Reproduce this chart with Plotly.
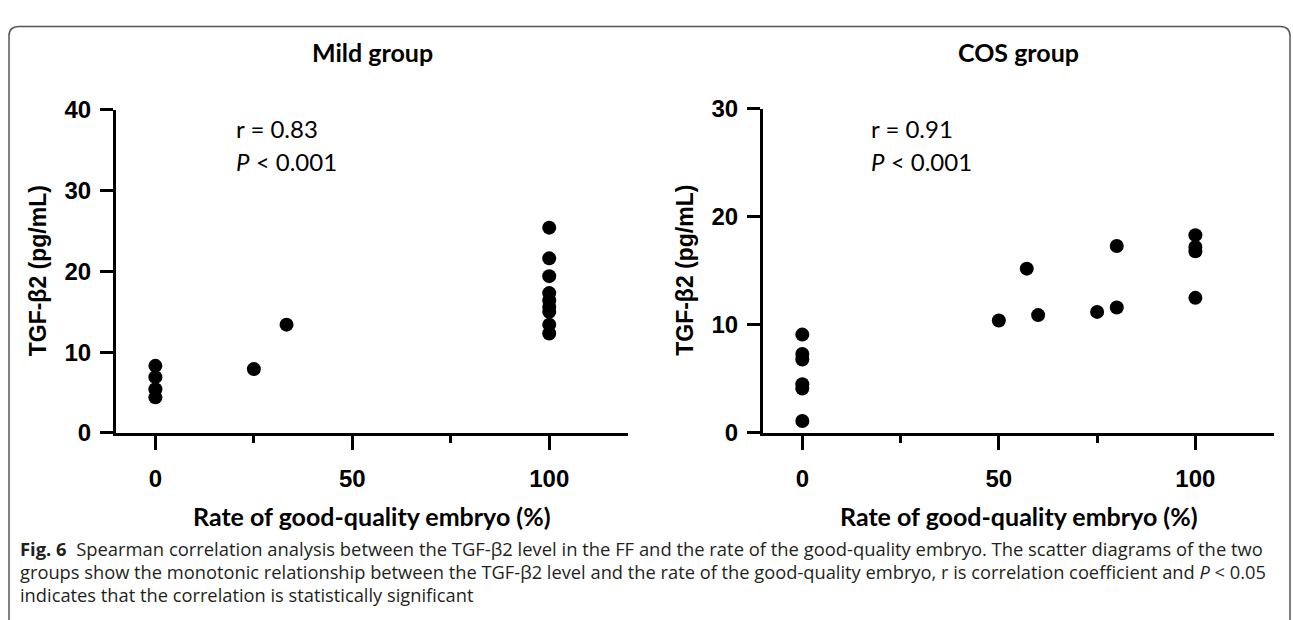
import plotly.graph_objects as go

W, H = 1293, 620

# ---------------- data ----------------
mild_rate = [0, 0, 0, 0, 25, 33.3, 100, 100, 100, 100, 100, 100, 100, 100, 100]
mild_tgf = [8.3, 6.9, 5.4, 4.4, 7.9, 13.4, 25.4, 21.6, 19.4, 17.3, 16.4, 15.6, 15.0, 13.4, 12.3]
cos_rate = [0, 0, 0, 0, 0, 0, 50, 57.1, 60, 75, 80, 80, 100, 100, 100, 100]
cos_tgf = [9.1, 7.3, 6.8, 4.5, 4.1, 1.1, 10.4, 15.2, 10.9, 11.2, 17.3, 11.6, 18.3, 17.2, 16.8, 12.5]

x_ticks = [0, 50, 100]
x_minor = [25, 75]
mild_yticks = [0, 10, 20, 30, 40]
cos_yticks = [0, 10, 20, 30]

panel_titles = ["Mild group", "COS group"]
stats_r = ["r = 0.83", "r = 0.91"]
stats_p = ["<i>P</i> < 0.001", "<i>P</i> < 0.001"]
y_title = "TGF-β2 (pg/mL)"
x_title = "Rate of good-quality embryo (%)"
caption = [
    "<b>Fig. 6</b>  Spearman correlation analysis between the TGF-β2 level in the FF and the rate of the good-quality embryo. The scatter diagrams of the two",
    "groups show the monotonic relationship between the TGF-β2 level and the rate of the good-quality embryo, r is correlation coefficient and <i>P</i> < 0.05",
    "indicates that the correlation is statistically significant",
]

# ---------------- layout helpers (pixels -> paper) ----------------
def fx(px):
    return px / W

def fy(py):
    return 1 - py / H

panels = [
    dict(x0=116, x1=628, ytop=100, ybot=438, ymax=40, yticks=mild_yticks),
    dict(x0=763, x1=1274, ytop=99, ybot=438, ymax=30, yticks=cos_yticks),
]

fig = go.Figure()
marker = dict(color="black", size=14, symbol="circle")
fig.add_trace(go.Scatter(x=mild_rate, y=mild_tgf, mode="markers", marker=marker,
                         xaxis="x", yaxis="y", showlegend=False, cliponaxis=False))
fig.add_trace(go.Scatter(x=cos_rate, y=cos_tgf, mode="markers", marker=marker,
                         xaxis="x2", yaxis="y2", showlegend=False, cliponaxis=False))

tickfont = dict(family="Liberation Sans, Arial, sans-serif", size=24, color="black", weight="bold")

layout = dict(
    width=W, height=H, margin=dict(l=0, r=0, t=0, b=0),
    paper_bgcolor="white", plot_bgcolor="white", showlegend=False,
)
for i, p in enumerate(panels):
    sfx = "" if i == 0 else str(i + 1)
    layout["xaxis" + sfx] = dict(
        domain=[fx(p["x0"]), fx(p["x1"])], range=[-10, 120], anchor="y" + sfx,
        showline=True, linewidth=3, linecolor="black", mirror=False,
        ticks="outside", ticklen=14, tickwidth=3, tickcolor="black",
        tickvals=x_ticks, tickfont=tickfont, ticklabelstandoff=8,
        minor=dict(tickvals=x_minor, ticks="outside", ticklen=7, tickwidth=3, tickcolor="black", showgrid=False),
        showgrid=False, zeroline=False, fixedrange=True,
    )
    layout["yaxis" + sfx] = dict(
        domain=[fy(p["ybot"]), fy(p["ytop"])], range=[0, p["ymax"]], anchor="x" + sfx,
        showline=True, linewidth=3, linecolor="black",
        ticks="outside", ticklen=13, tickwidth=3, tickcolor="black",
        tickvals=p["yticks"], tickfont=tickfont, ticklabelstandoff=4,
        showgrid=False, zeroline=False, fixedrange=True,
    )
fig.update_layout(**layout)

ann = []
stat_font = dict(family="Lato, Open Sans, sans-serif", size=24, color="black")
stat_pos = [(20, 37.7, 33.6), (17, 28.2, 25.1)]
for i, p in enumerate(panels):
    sfx = "" if i == 0 else str(i + 1)
    cx = (p["x0"] + p["x1"]) / 2
    ann.append(dict(text="<b>" + panel_titles[i] + "</b>", x=fx(cx), y=fy(40), xref="paper", yref="paper",
                    xanchor="center", yanchor="middle", showarrow=False,
                    font=dict(family="Lato, Open Sans, sans-serif", size=25, color="black")))
    ann.append(dict(text="<b>" + y_title + "</b>", x=fx(p["x0"] - 78), y=fy((p["ytop"] + p["ybot"]) / 2),
                    xref="paper", yref="paper", textangle=-90, xanchor="center", yanchor="middle",
                    showarrow=False, font=dict(family="Liberation Sans, Arial, sans-serif", size=23, color="black")))
    ann.append(dict(text="<b>" + x_title + "</b>", x=fx(cx), y=fy(525), xref="paper", yref="paper",
                    xanchor="center", yanchor="middle", showarrow=False,
                    font=dict(family="Lato, Open Sans, sans-serif", size=25, color="black")))
    sx, ry, py_ = stat_pos[i]
    ann.append(dict(text=stats_r[i], x=sx, y=ry, xref="x" + sfx, yref="y" + sfx,
                    xanchor="left", yanchor="middle", showarrow=False, font=stat_font))
    ann.append(dict(text=stats_p[i], x=sx, y=py_, xref="x" + sfx, yref="y" + sfx,
                    xanchor="left", yanchor="middle", showarrow=False, font=stat_font))

cap_sizes = [18.4, 18.3, 18.3]
for k, line in enumerate(caption):
    ann.append(dict(text=line, x=fx(18), y=fy(559 + 24 * k), xref="paper", yref="paper",
                    xanchor="left", yanchor="middle", showarrow=False,
                    font=dict(family="Open Sans, Lato, sans-serif", size=cap_sizes[k], color="#231f20")))
fig.update_layout(annotations=ann)

# rounded frame (open at the bottom)
l, t, r, b, rad = 9, 13, 1290, 700, 10
path = (f"M {fx(l)},{fy(b)} L {fx(l)},{fy(t + rad)} Q {fx(l)},{fy(t)} {fx(l + rad)},{fy(t)} "
        f"L {fx(r - rad)},{fy(t)} Q {fx(r)},{fy(t)} {fx(r)},{fy(t + rad)} L {fx(r)},{fy(b)}")
fig.add_shape(type="path", path=path, xref="paper", yref="paper",
              line=dict(color="#555555", width=1.5), layer="above")

fig.write_html("out.html", config={"displayModeBar": False})
